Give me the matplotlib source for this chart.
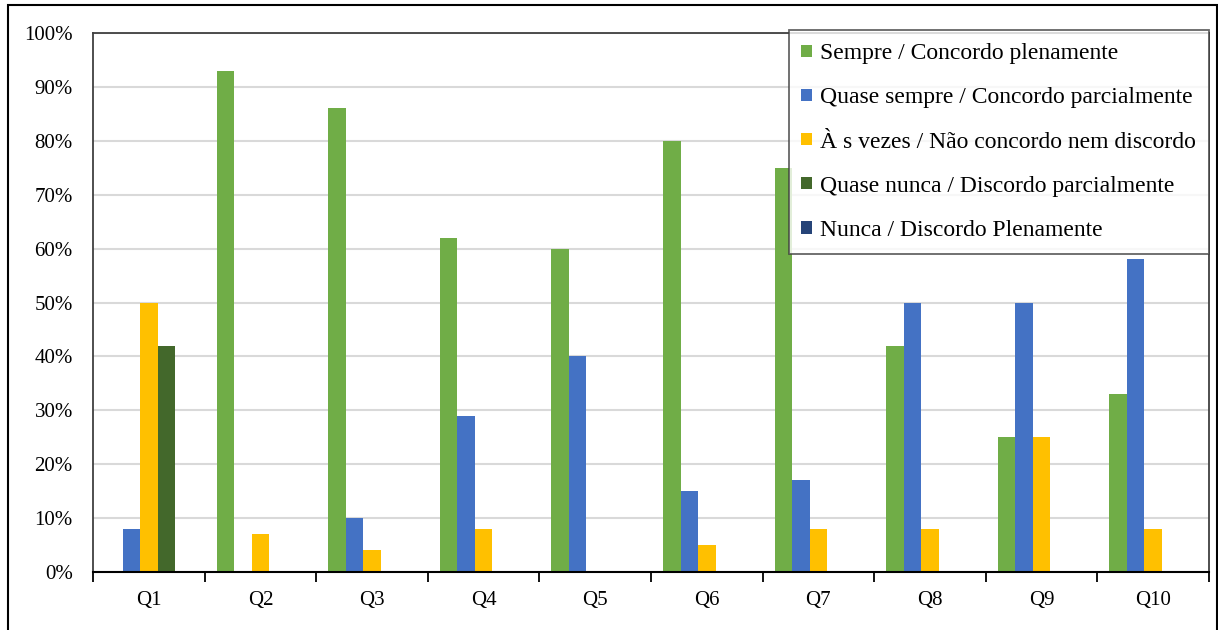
import numpy as np
import matplotlib
matplotlib.use("Agg")
import matplotlib.pyplot as plt
from matplotlib.patches import Rectangle

# ----------------------------------------------------------------------------
# Data
questions = ["Q1", "Q2", "Q3", "Q4", "Q5", "Q6", "Q7", "Q8", "Q9", "Q10"]
series_names = ["Sempre / Concordo plenamente",
                "Quase sempre / Concordo parcialmente",
                "À s vezes / Não concordo nem discordo",
                "Quase nunca / Discordo parcialmente",
                "Nunca / Discordo Plenamente"]
sempre = [0, 93, 86, 62, 60, 80, 75, 42, 25, 33]
quase_sempre = [8, 0, 10, 29, 40, 15, 17, 50, 50, 58]
as_vezes = [50, 7, 4, 8, 0, 5, 8, 8, 25, 8]
quase_nunca = [42, 0, 0, 0, 0, 0, 0, 0, 0, 0]
nunca = [0, 0, 0, 0, 0, 0, 0, 0, 0, 0]
y_ticks = [0, 10, 20, 30, 40, 50, 60, 70, 80, 90, 100]

colors = ["#70AD47", "#4472C4", "#FFC000", "#43682B", "#264478"]


# ----------------------------------------------------------------------------
def main():
    plt.rcParams['font.family'] = ['Liberation Serif', 'DejaVu Serif']

    fig = plt.figure(figsize=(12.18, 6.30), dpi=100)
    ax = fig.add_axes([93 / 1218, 58 / 630, (1209 - 93) / 1218, (572 - 33) / 630])

    x = np.arange(len(questions))
    width = 0.157
    allSeries = [sempre, quase_sempre, as_vezes, quase_nunca, nunca]
    for i, values in enumerate(allSeries):
        ax.bar(x + (i - 2) * width, np.array(values) / 100.0, width,
               color=colors[i], label=series_names[i], zorder=3)

    # Axes
    ax.set_xlim(-0.5, len(questions) - 0.5)
    ax.set_ylim(0, 1)
    ax.set_yticks(np.array(y_ticks) / 100.0)
    ax.set_yticklabels([f"{v}%" for v in y_ticks])
    ax.set_xticks(x)
    ax.set_xticklabels(questions)
    ax.set_xticks(np.arange(-0.5, len(questions)), minor=True)
    ax.tick_params(axis='x', which='major', length=0, pad=14,
                   labelsize=15, colors='black')
    ax.tick_params(axis='x', which='minor', length=7, width=1.3,
                   direction='out', color='black')
    ax.tick_params(axis='y', length=0, pad=14.5, labelsize=15)

    ax.grid(axis='y', color='#d9d9d9', linewidth=1.5, zorder=0)
    for side in ['left', 'top', 'right']:
        ax.spines[side].set_color('#404040')
        ax.spines[side].set_linewidth(1.3)
    ax.spines['bottom'].set_color('black')
    ax.spines['bottom'].set_linewidth(1.5)
    ax.spines['bottom'].set_zorder(4)

    leg = ax.legend(loc='upper right', bbox_to_anchor=(1.0, 1.005),
                    borderaxespad=0, fontsize=17, frameon=True,
                    fancybox=False, handlelength=0.43, handleheight=0.43,
                    handletextpad=0.36, labelspacing=0.98, borderpad=0.55)
    leg.get_frame().set_edgecolor('#404040')
    leg.get_frame().set_linewidth(1.3)
    leg.set_zorder(20)

    # Outer border of the picture
    fig.patches.append(Rectangle((8 / 1218, -0.1), (1217 - 8) / 1218,
                                 1.1 - 5 / 630, transform=fig.transFigure,
                                 fill=False, edgecolor='black', linewidth=1.5))

    fig.savefig("out.png", dpi=100)


# ----------------------------------------------------------------------------
if __name__ == "__main__":
    main()
